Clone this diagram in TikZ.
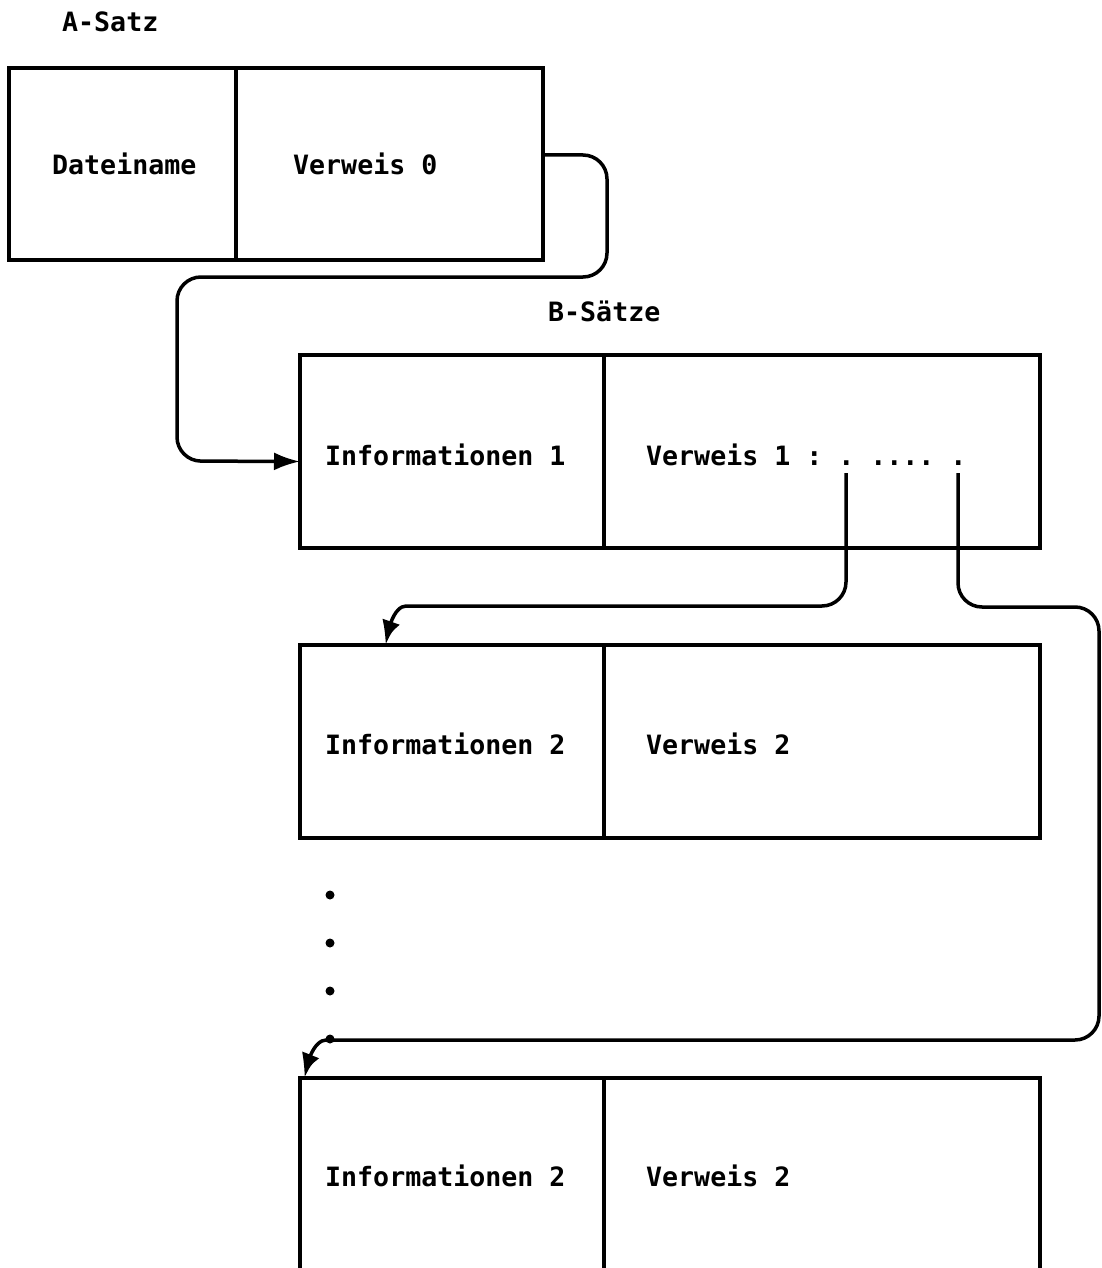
\documentclass[tikz,border=0pt]{standalone}
\usepackage{fontspec}
\setmonofont{DejaVu Sans Mono}
\usetikzlibrary{arrows.meta,bending,calc}

\begin{document}
\begin{tikzpicture}[x=1pt,y=-1pt,
  cell/.style={draw,line width=3.5pt,minimum height=193pt,anchor=north west,
               inner sep=0pt,outer sep=0pt},
  lbl/.style={anchor=base west,inner sep=0pt,
              font=\ttfamily\bfseries\fontsize{26.6}{30}\selectfont},
  link/.style={line width=3.5pt,rounded corners=24pt,
               -{Latex[length=26pt,width=18pt,bend]}},
  dotmark/.style={circle,fill,inner sep=0pt,minimum size=9pt}]

\useasboundingbox (0,0) rectangle (1102,1268);
\clip (0,0) rectangle (1102,1268);

% A record
\node[lbl] (tA) at (62,32) {A-Satz};
\node[cell,minimum width=227pt,minimum height=192pt] (a1) at (9,68) {};
\node[cell,minimum width=307pt,minimum height=192pt] (a2) at (236,68) {};
\node[lbl] (ta1) at (52,175) {Dateiname};
\node[lbl] (ta2) at (293,175) {Verweis 0};

% B records
\node[lbl] (tB) at (548,321) {B-Sätze};

\node[cell,minimum width=304pt] (b1a) at (300,355) {};
\node[cell,minimum width=436pt] (b1b) at (604,355) {};
\node[lbl] (tb1a) at (325,465) {Informationen 1};
\node[lbl] (tb1b) at (646,465) {Verweis 1 : . .... .};

\node[cell,minimum width=304pt] (b2a) at (300,645) {};
\node[cell,minimum width=436pt] (b2b) at (604,645) {};
\node[lbl] (tb2a) at (325,754) {Informationen 2};
\node[lbl] (tb2b) at (646,754) {Verweis 2};

\node[cell,minimum width=304pt] (b3a) at (300,1078) {};
\node[cell,minimum width=436pt] (b3b) at (604,1078) {};
\node[lbl] (tb3a) at (325,1186) {Informationen 2};
\node[lbl] (tb3b) at (646,1186) {Verweis 2};

% vertical ellipsis between the records
\foreach \i/\yy in {1/895,2/943,3/991,4/1039}
  \node[dotmark] (d\i) at (330,\yy) {};

% pointer origins below the dots of "Verweis 1"
\coordinate (p1) at ($(tb1b.base west)+(200,8)$);
\coordinate (p2) at ($(tb1b.base west)+(312,8)$);

% connectors
\draw[link] ($(a2.east)+(0,-9)$) -| (607,277) -| (177,461)
            -- ($(b1a.west)+(0,10)$);
\draw[link] (p1) |- (430,606) .. controls (398,606) and (389,618) ..
            ($(b2a.north west)+(86,0)$);
\draw[link] (p2) |- (1099,607) |- (350,1040) .. controls (318,1040) and (308,1052) ..
            ($(b3a.north west)+(5,0)$);

\end{tikzpicture}
\end{document}
